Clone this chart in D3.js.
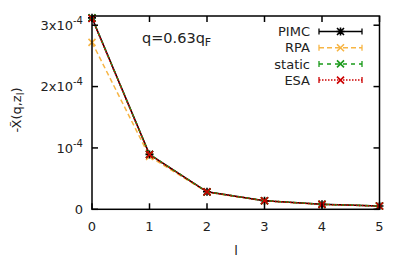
<html>
<script src='https://d3js.org/d3.v7.min.js'></script>
<style>
body {margin:0; background:white;}
text {font-family: "DejaVu Sans", sans-serif; font-size:13px; fill:#222;}
</style>
<body>
<svg width=407 height=262></svg>
<script>
// data, values in units of 1e-4
var ls = [0,1,2,3,4,5]
var pimc = [3.12,0.895,0.285,0.140,0.081,0.054]
var rpa = [2.72,0.860,0.280,0.138,0.080,0.053]
var stat = [3.12,0.895,0.285,0.140,0.081,0.054]
var esa = [3.11,0.890,0.284,0.139,0.080,0.053]
var yTicks = [0,1,2,3]
var yTickLabels = [["0",""],["10","-4"],["2x10","-4"],["3x10","-4"]]
var seriesNames = ["PIMC","RPA","static","ESA"]

var svg = d3.select("svg")
var x = d3.scaleLinear().domain([0,5]).range([92,379.5])
var y = d3.scaleLinear().domain([0,3.15]).range([209.3,16])

var series = [
  {name:seriesNames[0], vals:pimc, color:"#000000", dash:null, mark:"star"},
  {name:seriesNames[1], vals:rpa, color:"#f7b544", dash:"5,3", mark:"x"},
  {name:seriesNames[2], vals:stat, color:"#1a9a1a", dash:"4,4", mark:"x"},
  {name:seriesNames[3], vals:esa, color:"#cc0000", dash:"1.5,1.5", mark:"x"}
]

function marker(g, cx, cy, type, color) {
  var s = 3.5
  g.append("path")
   .attr("d", "M"+(cx-s)+","+(cy-s)+"L"+(cx+s)+","+(cy+s)+"M"+(cx-s)+","+(cy+s)+"L"+(cx+s)+","+(cy-s) +
     (type=="star" ? "M"+(cx-s-0.5)+","+cy+"L"+(cx+s+0.5)+","+cy+"M"+cx+","+(cy-s-0.5)+"L"+cx+","+(cy+s+0.5) : ""))
   .attr("stroke", color).attr("stroke-width", 1.6).attr("fill","none")
}

var line = d3.line().x(function(d,i){return x(ls[i])}).y(function(d){return y(d)})
var plot = svg.append("g")
// draw rpa, pimc, static, esa order
var order = [1,0,2,3]
order.forEach(function(k) {
  var s = series[k]
  plot.append("path").datum(s.vals).attr("d", line)
    .attr("fill","none").attr("stroke", s.color).attr("stroke-width",1.5)
    .attr("stroke-dasharray", s.dash)
  s.vals.forEach(function(v,i){ marker(plot, x(ls[i]), y(v), s.mark, s.color) })
})

// frame
svg.append("rect").attr("x",92).attr("y",16).attr("width",379.5-92).attr("height",209.3-16)
  .attr("fill","none").attr("stroke","black").attr("stroke-width",1.5)

// ticks
ls.forEach(function(l){
  svg.append("line").attr("x1",x(l)).attr("x2",x(l)).attr("y1",209.3).attr("y2",203.3).attr("stroke","black").attr("stroke-width",1.5)
  svg.append("line").attr("x1",x(l)).attr("x2",x(l)).attr("y1",16).attr("y2",22).attr("stroke","black").attr("stroke-width",1.5)
  svg.append("text").attr("x",x(l)).attr("y",231).attr("text-anchor","middle").text(l)
})
yTicks.forEach(function(t,i){
  svg.append("line").attr("x1",92).attr("x2",98).attr("y1",y(t)).attr("y2",y(t)).attr("stroke","black").attr("stroke-width",1.5)
  svg.append("line").attr("x1",379.5).attr("x2",373.5).attr("y1",y(t)).attr("y2",y(t)).attr("stroke","black").attr("stroke-width",1.5)
  var tx = svg.append("text").attr("x",83).attr("y",y(t)+4.7).attr("text-anchor","end")
  tx.append("tspan").text(yTickLabels[i][0])
  if (yTickLabels[i][1]) tx.append("tspan").attr("dy",-6).attr("font-size","10px").text(yTickLabels[i][1])
})

// axis labels
svg.append("text").attr("x",236).attr("y",255).attr("text-anchor","middle").text("l")
var yl = svg.append("text").attr("transform","translate(21,110) rotate(-90)").attr("text-anchor","middle")
yl.append("tspan").text("-X\u0303(q,z")
yl.append("tspan").attr("dy",3).attr("font-size","10px").text("l")
yl.append("tspan").attr("dy",-3).text(")")

var tt = svg.append("text").attr("x",142).attr("y",43).style("font-size","14.5px")
tt.append("tspan").text("q=0.63q")
tt.append("tspan").attr("dy",3).style("font-size","11px").text("F")

// legend
series.forEach(function(s,i){
  var ly = 31.5 + i*16.2
  var g = svg.append("g")
  g.append("text").attr("x",310).attr("y",ly+4.7).attr("text-anchor","end").text(s.name)
  g.append("line").attr("x1",319).attr("x2",362).attr("y1",ly).attr("y2",ly)
    .attr("stroke",s.color).attr("stroke-width",1.5).attr("stroke-dasharray",s.dash)
  g.append("line").attr("x1",319).attr("x2",319).attr("y1",ly-3).attr("y2",ly+3).attr("stroke",s.color).attr("stroke-width",1.3)
  g.append("line").attr("x1",362).attr("x2",362).attr("y1",ly-3).attr("y2",ly+3).attr("stroke",s.color).attr("stroke-width",1.3)
  marker(g, 340.5, ly, s.mark, s.color)
})
</script>
</body>
</html>
